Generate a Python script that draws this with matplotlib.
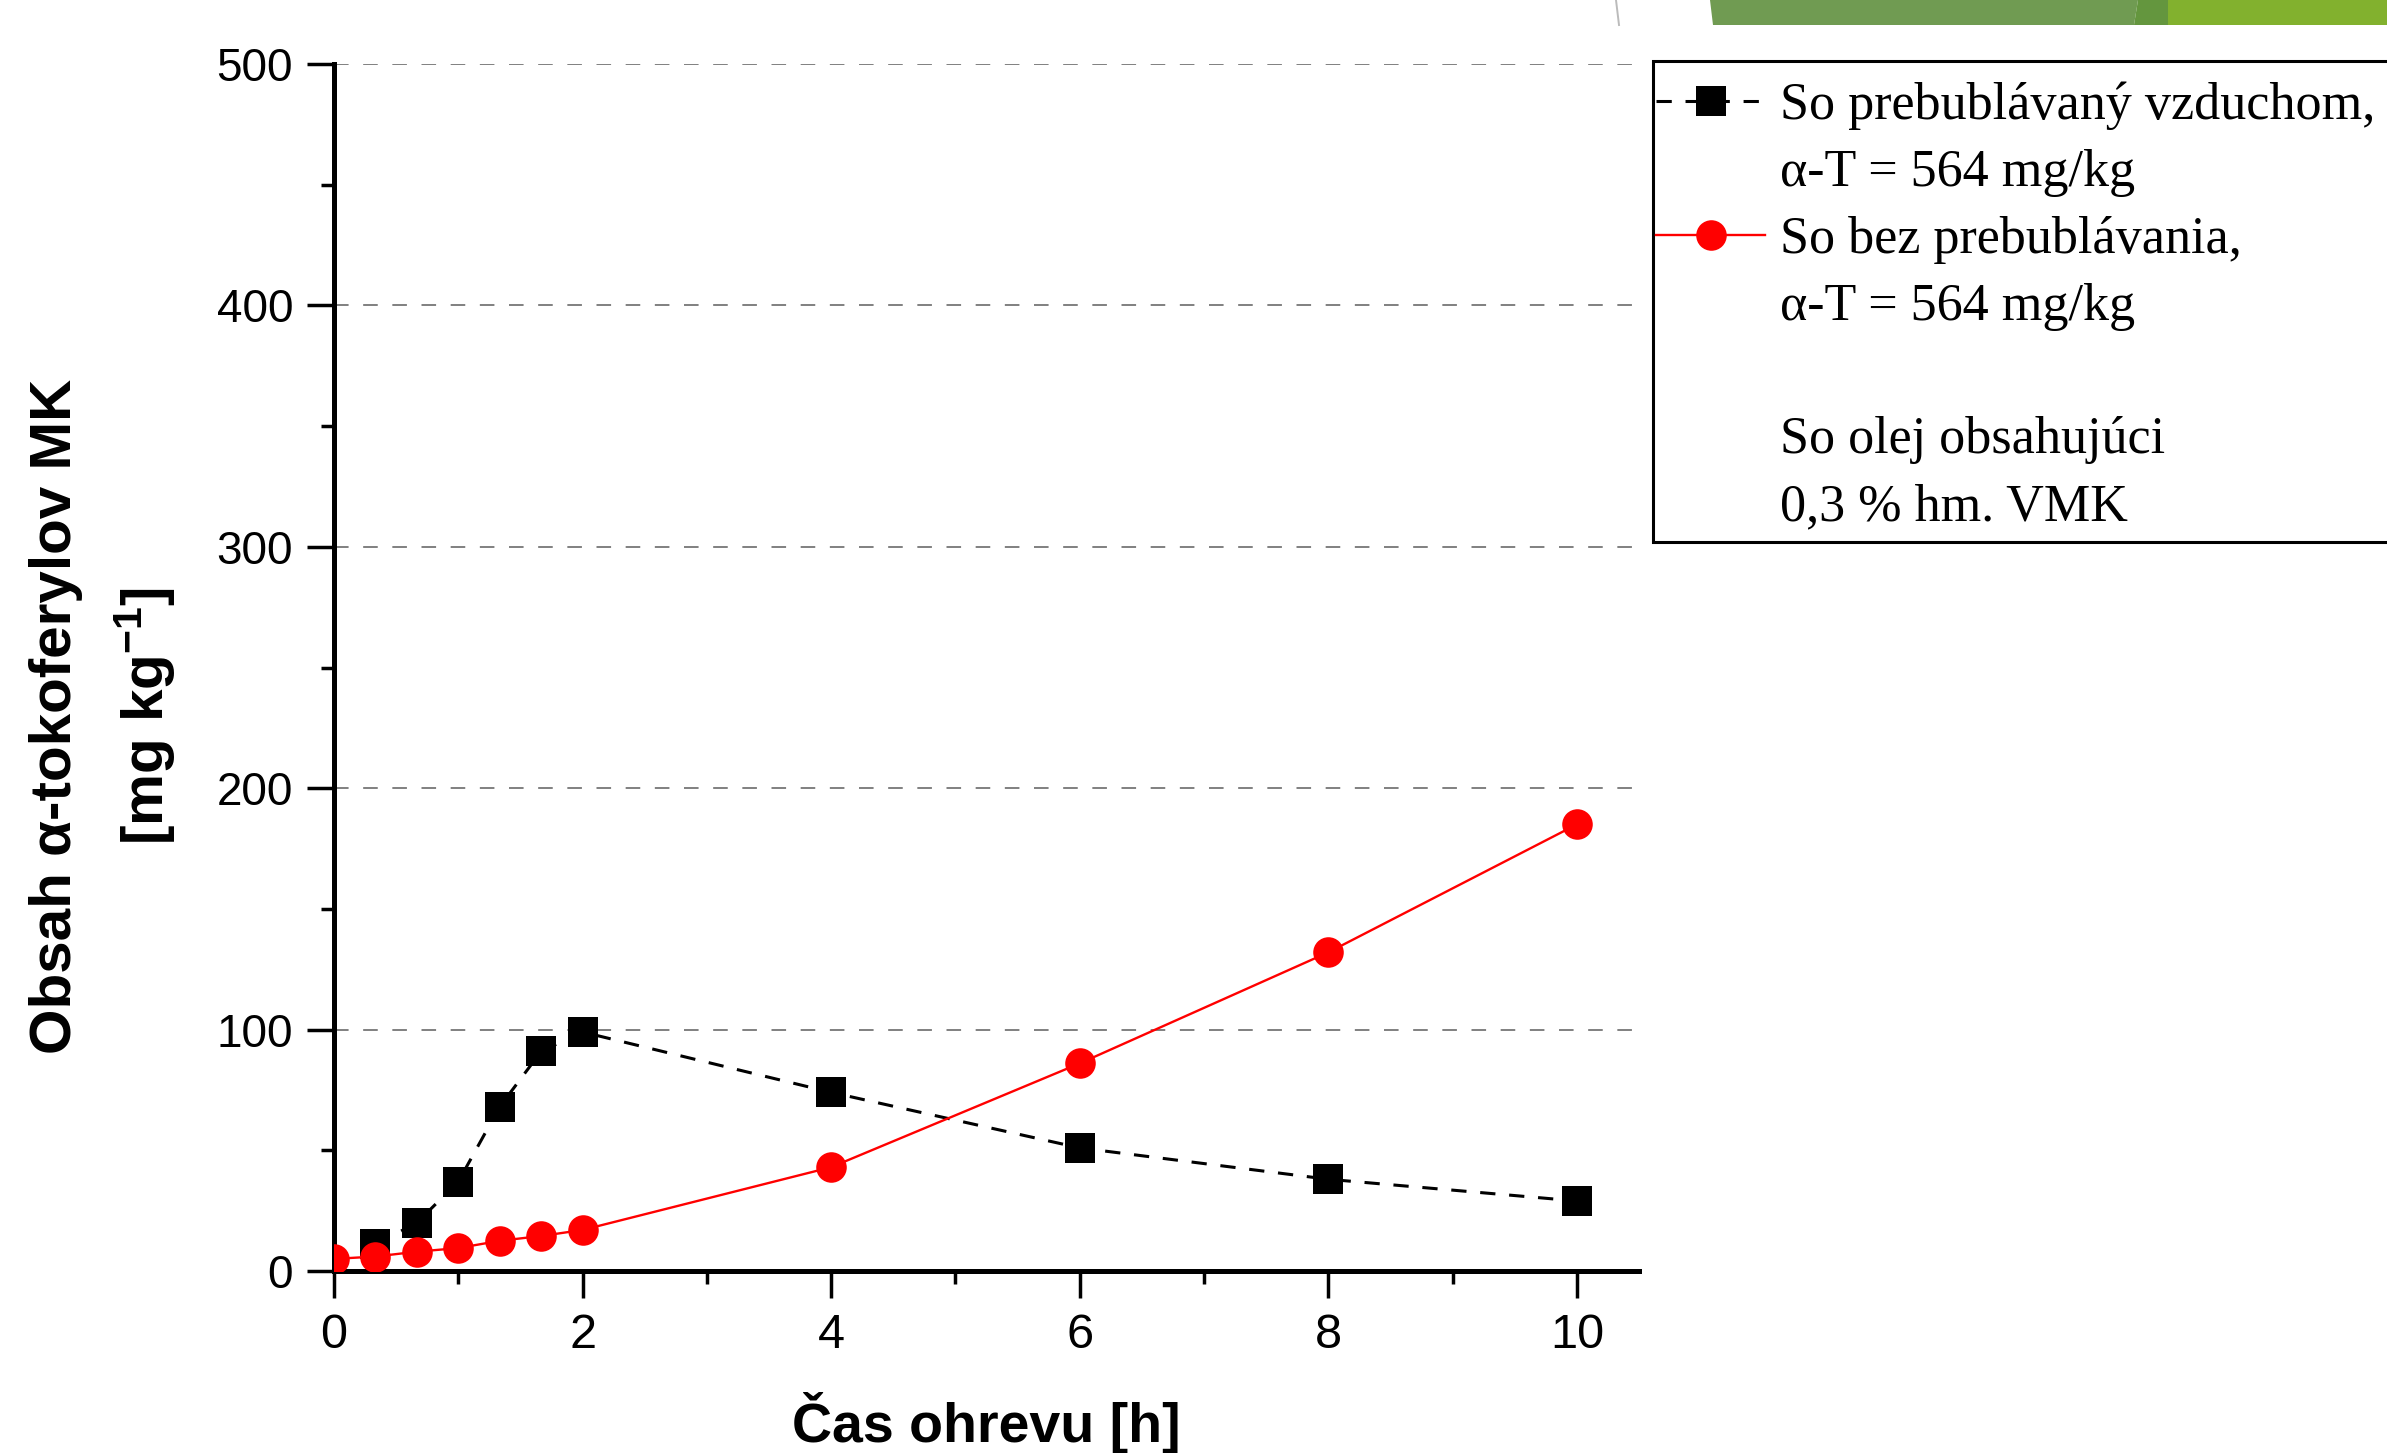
import matplotlib
matplotlib.use("Agg")
import matplotlib.pyplot as plt
from matplotlib.lines import Line2D
from matplotlib.patches import Polygon, Rectangle
from matplotlib.ticker import MultipleLocator

# data
cas_vzduch = [0.333, 0.667, 1.0, 1.333, 1.667, 2.0, 4.0, 6.0, 8.0, 10.0]
obsah_vzduch = [11, 20, 37, 68, 91, 99, 74, 51, 38, 29]

cas_bez = [0.0, 0.333, 0.667, 1.0, 1.333, 1.667, 2.0, 4.0, 6.0, 8.0, 10.0]
obsah_bez = [5, 6, 8, 9.5, 12.5, 14.5, 17, 43, 86, 132, 185]

x_ticks = [0, 2, 4, 6, 8, 10]
y_ticks = [0, 100, 200, 300, 400, 500]

legend_rows = ["So prebublávaný vzduchom,", "α-T = 564 mg/kg",
               "So bez prebublávania,", "α-T = 564 mg/kg", " ",
               "So olej obsahujúci", "0,3 % hm. VMK"]

W, H = 2387, 1453
plt.rcParams['font.family'] = ['Liberation Sans', 'DejaVu Sans']
plt.rcParams['mathtext.fontset'] = 'custom'
plt.rcParams['mathtext.rm'] = 'Liberation Sans'
plt.rcParams['mathtext.bf'] = 'Liberation Sans:bold'
plt.rcParams['mathtext.it'] = 'Liberation Sans:italic'

fig = plt.figure(figsize=(W / 100, H / 100), dpi=100)


def fx(px):
    return px / W


def fy(py):
    return 1 - py / H


# slide decoration at the top right
fig.patches.append(Polygon([(fx(1710), fy(0)), (fx(2138), fy(0)), (fx(2134), fy(25)), (fx(1713), fy(25))],
                           closed=True, transform=fig.transFigure, color='#709B52', lw=0))
fig.patches.append(Polygon([(fx(2138), fy(0)), (fx(2168), fy(0)), (fx(2168), fy(25)), (fx(2134), fy(25))],
                           closed=True, transform=fig.transFigure, color='#64963E', lw=0))
fig.patches.append(Polygon([(fx(2168), fy(0)), (fx(2387), fy(0)), (fx(2387), fy(25)), (fx(2168), fy(25))],
                           closed=True, transform=fig.transFigure, color='#82B12E', lw=0))
fig.lines.append(Line2D([fx(1616), fx(1619)], [fy(0), fy(25)], transform=fig.transFigure,
                        color='#BBBBBB', lw=1.4))

ax = fig.add_axes([fx(334), fy(1271), fx(1639) - fx(334), fy(64) - fy(1271)])

ax.plot(cas_vzduch, obsah_vzduch, color='black', lw=2.2, linestyle=(0, (5, 4.5)),
        marker='s', ms=21, markeredgewidth=0, zorder=3)
ax.plot(cas_bez, obsah_bez, color='#FF0000', lw=1.7, linestyle='-',
        marker='o', ms=22, markeredgewidth=0, zorder=4)

ax.set_xlim(0, 10.5)
ax.set_ylim(0, 500)
ax.set_xticks(x_ticks)
ax.set_yticks(y_ticks)
ax.xaxis.set_minor_locator(MultipleLocator(1))
ax.yaxis.set_minor_locator(MultipleLocator(50))

for s in ['top', 'right']:
    ax.spines[s].set_visible(False)
for s in ['left', 'bottom']:
    ax.spines[s].set_linewidth(3.6)

ax.tick_params(which='major', direction='out', length=19.5, width=2.5)
ax.tick_params(which='minor', direction='out', length=9.5, width=2.5)
ax.tick_params(axis='y', labelsize=33, pad=10)
ax.tick_params(axis='x', labelsize=35, pad=11)

for v in y_ticks[1:]:
    ax.axhline(v, color='#808080', lw=1.4, linestyle=(0, (7.5, 7.5)), zorder=1)

ax.set_xlabel("Čas ohrevu [h]", fontsize=40, fontweight='bold', labelpad=24)
fig.text(fx(103), fy(716), "Obsah α-tokoferylov MK\n[mg kg$^{\\mathbf{-1}}$]",
         rotation=90, ha='center', va='center', multialignment='center',
         fontsize=42, fontweight='bold', linespacing=1.55)

# legend box (runs off the right edge as in the original)
fig.patches.append(Rectangle((fx(1653), fy(542)), fx(2400) - fx(1653), fy(61) - fy(542),
                             transform=fig.transFigure, facecolor='white', edgecolor='black',
                             lw=2.2, zorder=5))

handles = [Line2D([], [], color='black', lw=2.2, linestyle=(0, (5, 4.5)), marker='s', ms=21, markeredgewidth=0),
           Line2D([], [], color='none'),
           Line2D([], [], color='#FF0000', lw=1.7, marker='o', ms=22, markeredgewidth=0),
           Line2D([], [], color='none'),
           Line2D([], [], color='none'),
           Line2D([], [], color='none'),
           Line2D([], [], color='none')]
leg = fig.legend(handles, legend_rows, loc='upper left', bbox_to_anchor=(fx(1656), fy(82)),
                 bbox_transform=fig.transFigure, prop={'family': 'Liberation Serif', 'size': 37.5},
                 frameon=False, borderpad=0, borderaxespad=0, labelspacing=0.36,
                 handlelength=2.1, handletextpad=0.28, numpoints=1)
leg.set_zorder(6)

fig.savefig("out.png", dpi=100)
